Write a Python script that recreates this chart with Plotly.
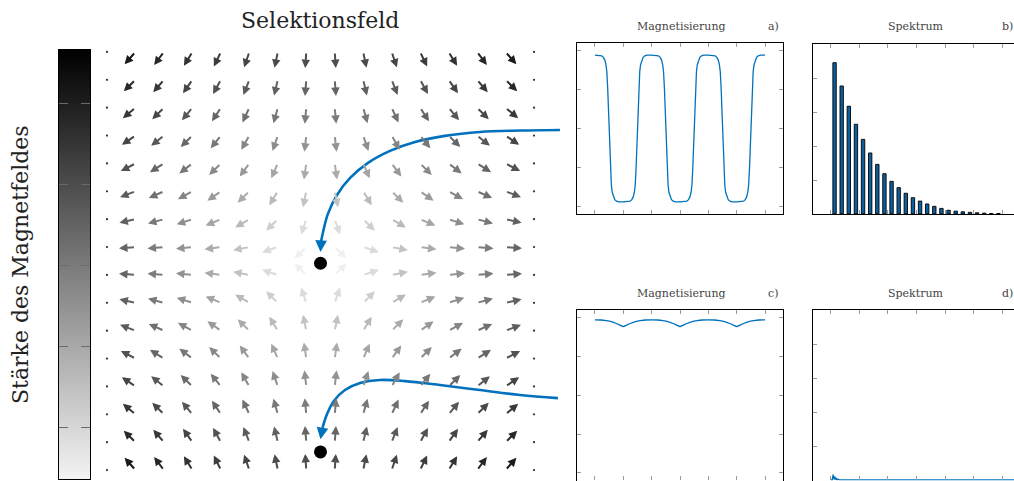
import numpy as np
import plotly.graph_objects as go

W, H = 1014, 481

# ---------------- data ----------------
# selection field grid (field-free point at the centre)
grid_x = [-7.5, -6.5, -5.5, -4.5, -3.5, -2.5, -1.5, -0.5, 0.5, 1.5, 2.5, 3.5, 4.5, 5.5, 6.5, 7.5]
grid_y = [7.5, 6.5, 5.5, 4.5, 3.5, 2.5, 1.5, 0.5, -0.5, -1.5, -2.5, -3.5, -4.5, -5.5, -6.5, -7.5]
edge_cols = [-7.5, 7.5]           # columns shown only as dots
grad_x, grad_y = 1.0, -1.0        # gradient strengths of the selection field

cbar_range = [0.74, 11.33]
cbar_ticks = [2, 4, 6, 8, 10]

# magnetisation a) (time in drive periods)
mag_a_t = [0.00, 0.08, 0.12, 0.15, 0.175, 0.195, 0.21, 0.225, 0.25, 0.275, 0.29, 0.305, 0.325, 0.35, 0.38, 0.42, 0.50,
           0.58, 0.62, 0.65, 0.675, 0.695, 0.71, 0.725, 0.75, 0.775, 0.79, 0.805, 0.825, 0.85, 0.88, 0.92, 1.00,
           1.08, 1.12, 1.15, 1.175, 1.195, 1.21, 1.225, 1.25, 1.275, 1.29, 1.305, 1.325, 1.35, 1.38, 1.42, 1.50,
           1.58, 1.62, 1.65, 1.675, 1.695, 1.71, 1.725, 1.75, 1.775, 1.79, 1.805, 1.825, 1.85, 1.88, 1.92, 2.00,
           2.08, 2.12, 2.15, 2.175, 2.195, 2.21, 2.225, 2.25, 2.275, 2.29, 2.305, 2.325, 2.35, 2.38, 2.42, 2.50,
           2.58, 2.62, 2.65, 2.675, 2.695, 2.71, 2.725, 2.75, 2.775, 2.79, 2.805, 2.825, 2.85, 2.88, 2.92, 3.00]
mag_a_m = [0.945, 0.943, 0.935, 0.915, 0.88, 0.82, 0.73, 0.52, 0.0, -0.52, -0.73, -0.82, -0.88, -0.915, -0.935, -0.943, -0.945,
           -0.943, -0.935, -0.915, -0.88, -0.82, -0.73, -0.52, 0.0, 0.52, 0.73, 0.82, 0.88, 0.915, 0.935, 0.943, 0.945,
           0.943, 0.935, 0.915, 0.88, 0.82, 0.73, 0.52, 0.0, -0.52, -0.73, -0.82, -0.88, -0.915, -0.935, -0.943, -0.945,
           -0.943, -0.935, -0.915, -0.88, -0.82, -0.73, -0.52, 0.0, 0.52, 0.73, 0.82, 0.88, 0.915, 0.935, 0.943, 0.945,
           0.943, 0.935, 0.915, 0.88, 0.82, 0.73, 0.52, 0.0, -0.52, -0.73, -0.82, -0.88, -0.915, -0.935, -0.943, -0.945,
           -0.943, -0.935, -0.915, -0.88, -0.82, -0.73, -0.52, 0.0, 0.52, 0.73, 0.82, 0.88, 0.915, 0.935, 0.943, 0.945]

# magnetisation c)
mag_c_t = [0.0, 0.1, 0.2, 0.3, 0.38, 0.44, 0.5, 0.56, 0.62, 0.7, 0.8, 0.9,
           1.0, 1.1, 1.2, 1.3, 1.38, 1.44, 1.5, 1.56, 1.62, 1.7, 1.8, 1.9,
           2.0, 2.1, 2.2, 2.3, 2.38, 2.44, 2.5, 2.56, 2.62, 2.7, 2.8, 2.9, 3.0]
mag_c_m = [0.972, 0.971, 0.963, 0.947, 0.926, 0.905, 0.887, 0.905, 0.926, 0.947, 0.963, 0.971,
           0.972, 0.971, 0.963, 0.947, 0.926, 0.905, 0.887, 0.905, 0.926, 0.947, 0.963, 0.971,
           0.972, 0.971, 0.963, 0.947, 0.926, 0.905, 0.887, 0.905, 0.926, 0.947, 0.963, 0.971, 0.972]

# spectrum b) (odd harmonics)
spec_b_harm = [1, 3, 5, 7, 9, 11, 13, 15, 17, 19, 21, 23, 25, 27, 29, 31, 33, 35, 37, 39, 41, 43, 45, 47]
spec_b_amp = [0.890, 0.753, 0.634, 0.528, 0.439, 0.359, 0.292, 0.237, 0.192, 0.155, 0.122, 0.096,
              0.076, 0.059, 0.045, 0.033, 0.022, 0.017, 0.013, 0.010, 0.007, 0.005, 0.003, 0.003]

# spectrum d)
spec_d_freq = [0.0, 0.35, 0.6, 0.85, 1.05, 1.3, 1.5, 1.75, 2.0, 2.4, 3.0, 54.0]
spec_d_amp = [0.004, 0.004, 0.034, 0.006, 0.024, 0.005, 0.014, 0.004, 0.008, 0.004, 0.004, 0.004]

# particle paths into the field (field coordinates)
path1_x = [8.41, 7.01, 5.60, 4.37, 3.32, 2.44, 1.67, 1.04, 0.58, 0.26, 0.09, 0.02]
path1_y = [4.70, 4.68, 4.63, 4.49, 4.27, 3.95, 3.52, 2.98, 2.37, 1.69, 1.04, 0.70]
tip1 = (0.0, 0.32)
path2_x = [8.34, 7.01, 5.60, 4.20, 2.97, 2.09, 1.39, 0.86, 0.47, 0.23, 0.07]
path2_y = [-4.92, -4.81, -4.63, -4.45, -4.31, -4.27, -4.38, -4.63, -5.02, -5.49, -5.99]
tip2 = (0.0, -6.40)
particle_x = [0.0, 0.0]
particle_y = [-0.08, -6.85]

# ---------------- styling helpers ----------------
BLUE = '#0072bd'
FONT = 'DejaVu Serif'

def dx(p0, p1):
    return [p0 / W, min(p1 / W, 1.0)]

def dy(top, bot):
    return [max(1 - bot / H, 0.0), 1 - top / H]

def gray_for(v):
    f = (v - cbar_range[0]) / (cbar_range[1] - cbar_range[0])
    f = min(max(f, 0.0), 1.0)
    g = int(round(240 * (1 - f) ** 1.1))
    return f'rgb({g},{g},{g})'

fig = go.Figure()

# ---- quiver axis (x, y) ----
px_per_x, px_per_y = 28.47, 27.87
cx_px, cy_px = 320.5, 261.0
qx0, qx1, qy0, qy1 = 92, 575, 40, 481
q_xrange = [(qx0 - cx_px) / px_per_x, (qx1 - cx_px) / px_per_x]
q_yrange = [(cy_px - qy1) / px_per_y, (cy_px - qy0) / px_per_y]

annotations = []
arrow_len = 0.58
for gy in grid_y:
    for gx in grid_x:
        if gx in edge_cols:
            continue
        hx, hy = grad_x * gx, grad_y * gy
        m = float(np.hypot(hx, hy))
        ux, uy = hx / m, hy / m
        annotations.append(dict(
            x=gx + arrow_len * ux, y=gy + arrow_len * uy, ax=gx, ay=gy,
            xref='x', yref='y', axref='x', ayref='y', text='', showarrow=True,
            arrowhead=2, arrowsize=0.85, arrowwidth=2.0, arrowcolor=gray_for(m),
            standoff=0, startstandoff=0))

edge_x = [gx for gy in grid_y for gx in edge_cols]
edge_y = [gy for gy in grid_y for gx in edge_cols]
fig.add_trace(go.Scatter(x=edge_x, y=edge_y, mode='markers',
                         marker=dict(size=2.2, color='#333'), xaxis='x', yaxis='y',
                         hoverinfo='skip', showlegend=False))

# particle paths
for px_, py_, tip in [(path1_x, path1_y, tip1), (path2_x, path2_y, tip2)]:
    fig.add_trace(go.Scatter(x=px_, y=py_, mode='lines', line=dict(color=BLUE, width=2.6, shape='spline', smoothing=1.0),
                             xaxis='x', yaxis='y', hoverinfo='skip', showlegend=False))
    annotations.append(dict(x=tip[0], y=tip[1], ax=px_[-1], ay=py_[-1], xref='x', yref='y', axref='x', ayref='y',
                            text='', showarrow=True, arrowhead=2, arrowsize=0.9, arrowwidth=2.6,
                            arrowcolor=BLUE, standoff=0, startstandoff=0))

fig.add_trace(go.Scatter(x=particle_x, y=particle_y, mode='markers', marker=dict(size=13, color='black'),
                         xaxis='x', yaxis='y', hoverinfo='skip', showlegend=False))

# ---- colorbar (x2, y2) ----
fig.add_trace(go.Heatmap(x=[0, 1], y=cbar_range, z=[[cbar_range[0]] * 2, [cbar_range[1]] * 2],
                         zsmooth='best', colorscale=[[0, 'rgb(244,244,244)'], [1, 'rgb(0,0,0)']],
                         zmin=cbar_range[0], zmax=cbar_range[1], showscale=False,
                         xaxis='x2', yaxis='y2', hoverinfo='skip'))

# ---- panel a (x3, y3) ----
fig.add_trace(go.Scatter(x=mag_a_t, y=mag_a_m, mode='lines', line=dict(color=BLUE, width=1.3),
                         xaxis='x3', yaxis='y3', hoverinfo='skip', showlegend=False))
# ---- panel b (x4, y4) ----
fig.add_trace(go.Bar(x=spec_b_harm, y=spec_b_amp, width=0.95,
                     marker=dict(color='#0b5f9e', line=dict(color='black', width=0.9)),
                     xaxis='x4', yaxis='y4', hoverinfo='skip', showlegend=False))
# ---- panel c (x5, y5) ----
fig.add_trace(go.Scatter(x=mag_c_t, y=mag_c_m, mode='lines', line=dict(color=BLUE, width=1.3, shape='spline', smoothing=0.5),
                         xaxis='x5', yaxis='y5', hoverinfo='skip', showlegend=False))
# ---- panel d (x6, y6) ----
fig.add_trace(go.Scatter(x=spec_d_freq, y=spec_d_amp, mode='lines', line=dict(color=BLUE, width=1.3),
                         xaxis='x6', yaxis='y6', hoverinfo='skip', showlegend=False))

panel = dict(showline=True, linecolor='black', linewidth=1.2, ticks='inside', ticklen=4,
             tickcolor='#9a9a9a', tickwidth=1, showticklabels=False, showgrid=False, zeroline=False)

mag_xticks = [0, 0.5, 1, 1.5, 2, 2.5, 3]
mag_yticks = [-1, -0.5, 0, 0.5, 1]
spec_xticks = [0, 8, 16, 24, 32, 40, 48]
spec_yticks = [0.2, 0.4, 0.6, 0.8]

mag_xr = [-0.316, 3.316]
spec_xr = [-5.05, (1014 - 831) / 3.5625]

layout = dict(
    width=W, height=H, margin=dict(l=0, r=0, t=0, b=0),
    paper_bgcolor='white', plot_bgcolor='rgba(0,0,0,0)', showlegend=False,
    xaxis=dict(domain=dx(qx0, qx1), range=q_xrange, visible=False, anchor='y'),
    yaxis=dict(domain=dy(qy0, qy1), range=q_yrange, visible=False, anchor='x'),
    xaxis2=dict(domain=dx(59, 90), range=[0, 1], anchor='y2', showline=True, mirror=True,
                linecolor='black', linewidth=1.2, ticks='', showticklabels=False, showgrid=False, zeroline=False),
    yaxis2=dict(domain=dy(50, 479), range=cbar_range, anchor='x2', showline=True, mirror='ticks',
                linecolor='black', linewidth=1.2, ticks='inside', ticklen=9, tickcolor='#6a6a6a', tickwidth=1.2,
                tickvals=cbar_ticks, showticklabels=False, showgrid=False, zeroline=False),
    xaxis3=dict(domain=dx(577, 783), range=mag_xr, anchor='y3', mirror='ticks', tickvals=mag_xticks, **panel),
    yaxis3=dict(domain=dy(43, 214), range=[-1.1, 1.1], anchor='x3', mirror='ticks', tickvals=mag_yticks, **panel),
    xaxis4=dict(domain=dx(813, 1020), range=spec_xr, anchor='y4', mirror='ticks', tickvals=spec_xticks, **panel),
    yaxis4=dict(domain=dy(44, 214), range=[0, 1], anchor='x4', mirror=False, tickvals=spec_yticks, **panel),
    xaxis5=dict(domain=dx(577, 783), range=mag_xr, anchor='y5', mirror='ticks', tickvals=mag_xticks, **panel),
    yaxis5=dict(domain=dy(310, 480.5), range=[-1.1, 1.1], anchor='x5', mirror='ticks', tickvals=mag_yticks, **panel),
    xaxis6=dict(domain=dx(813, 1020), range=spec_xr, anchor='y6', mirror='ticks', tickvals=spec_xticks, **panel),
    yaxis6=dict(domain=dy(310, 480.5), range=[0, 1], anchor='x6', mirror=False, tickvals=spec_yticks, **panel),
)

def label(text, xpx, ypx, size, color='#333', angle=0):
    return dict(text=text, x=xpx / W, y=1 - ypx / H, xref='paper', yref='paper', showarrow=False,
                xanchor='center', yanchor='middle', textangle=angle,
                font=dict(family=FONT, size=size, color=color))

annotations += [
    label('Selektionsfeld', 320, 20, 22, '#222'),
    label('Stärke des Magnetfeldes', 20, 265, 22, '#222', -90),
    label('Magnetisierung', 681, 26, 11, '#444'),
    label('a)', 773, 26, 11, '#444'),
    label('Spektrum', 916, 26, 11, '#444'),
    label('b)', 1007, 26, 11, '#444'),
    label('Magnetisierung', 681, 293, 11, '#444'),
    label('c)', 773, 293, 11, '#444'),
    label('Spektrum', 916, 293, 11, '#444'),
    label('d)', 1007, 293, 11, '#444'),
]
layout['annotations'] = annotations
fig.update_layout(**layout)

fig.write_html('out.html')
